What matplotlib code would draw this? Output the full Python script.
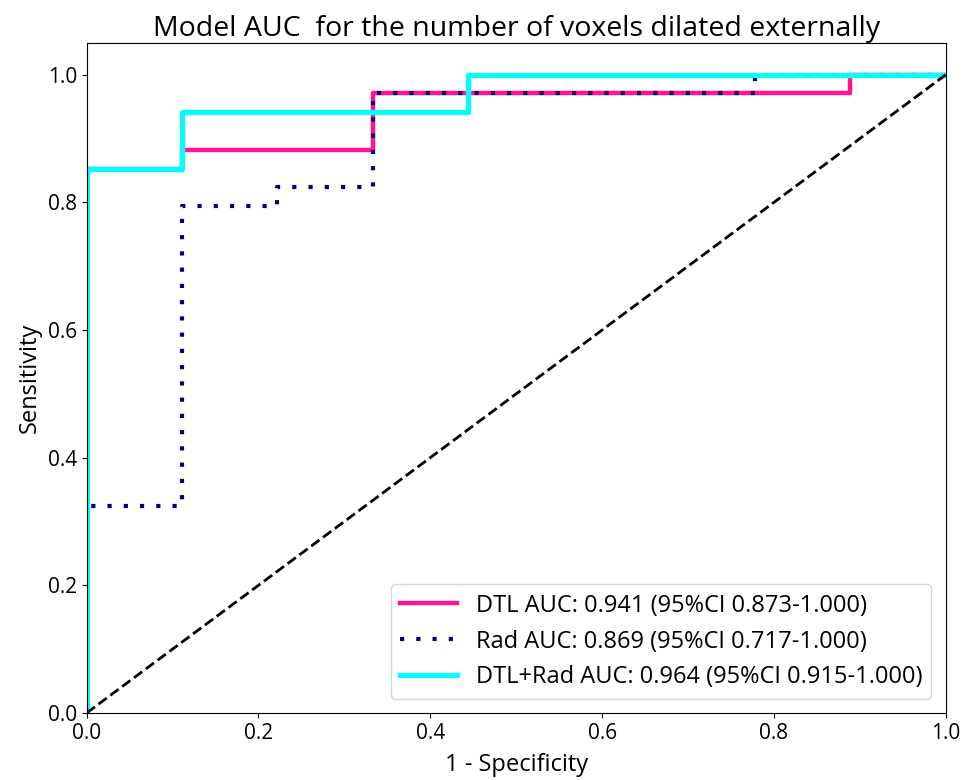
import numpy as np
import matplotlib.pyplot as plt

plt.rcParams['font.family'] = ['Open Sans', 'DejaVu Sans']

# ROC curve points (1 - specificity, sensitivity)
dtl_fpr = [0.0, 0.0, 0.111, 0.111, 0.333, 0.333, 0.889, 0.889, 1.0]
dtl_tpr = [0.0, 0.853, 0.853, 0.882, 0.882, 0.971, 0.971, 1.0, 1.0]

rad_fpr = [0.0, 0.0, 0.111, 0.111, 0.222, 0.222, 0.333, 0.333, 0.778, 0.778, 1.0]
rad_tpr = [0.0, 0.324, 0.324, 0.794, 0.794, 0.824, 0.824, 0.971, 0.971, 1.0, 1.0]

comb_fpr = [0.0, 0.0, 0.111, 0.111, 0.444, 0.444, 1.0]
comb_tpr = [0.0, 0.853, 0.853, 0.941, 0.941, 1.0, 1.0]

labels = [
    'DTL AUC: 0.941 (95%CI 0.873-1.000)',
    'Rad AUC: 0.869 (95%CI 0.717-1.000)',
    'DTL+Rad AUC: 0.964 (95%CI 0.915-1.000)',
]

fig, ax = plt.subplots(figsize=(9.63, 7.8), dpi=100)
fig.subplots_adjust(left=0.09, right=0.982, top=0.945, bottom=0.086)

ax.plot(dtl_fpr, dtl_tpr, color='deeppink', lw=3.2, label=labels[0])
ax.plot(rad_fpr, rad_tpr, color='navy', lw=3.0, linestyle=(0, (1, 2.9)), label=labels[1])
ax.plot(comb_fpr, comb_tpr, color='aqua', lw=3.8, label=labels[2])
ax.plot([0, 1], [0, 1], color='black', lw=2, linestyle='--')

ax.set_xlim(0, 1)
ax.set_ylim(0, 1.05)
ax.set_xlabel('1 - Specificity', fontsize=17, labelpad=7)
ax.set_ylabel('Sensitivity', fontsize=17, labelpad=4)
ax.set_title('Model AUC  for the number of voxels dilated externally', fontsize=20.5, pad=5)
ax.tick_params(labelsize=15)

ax.legend(loc='lower right', fontsize=17, handlelength=2.4, borderaxespad=0.6)

plt.savefig('out.png', dpi=100)
